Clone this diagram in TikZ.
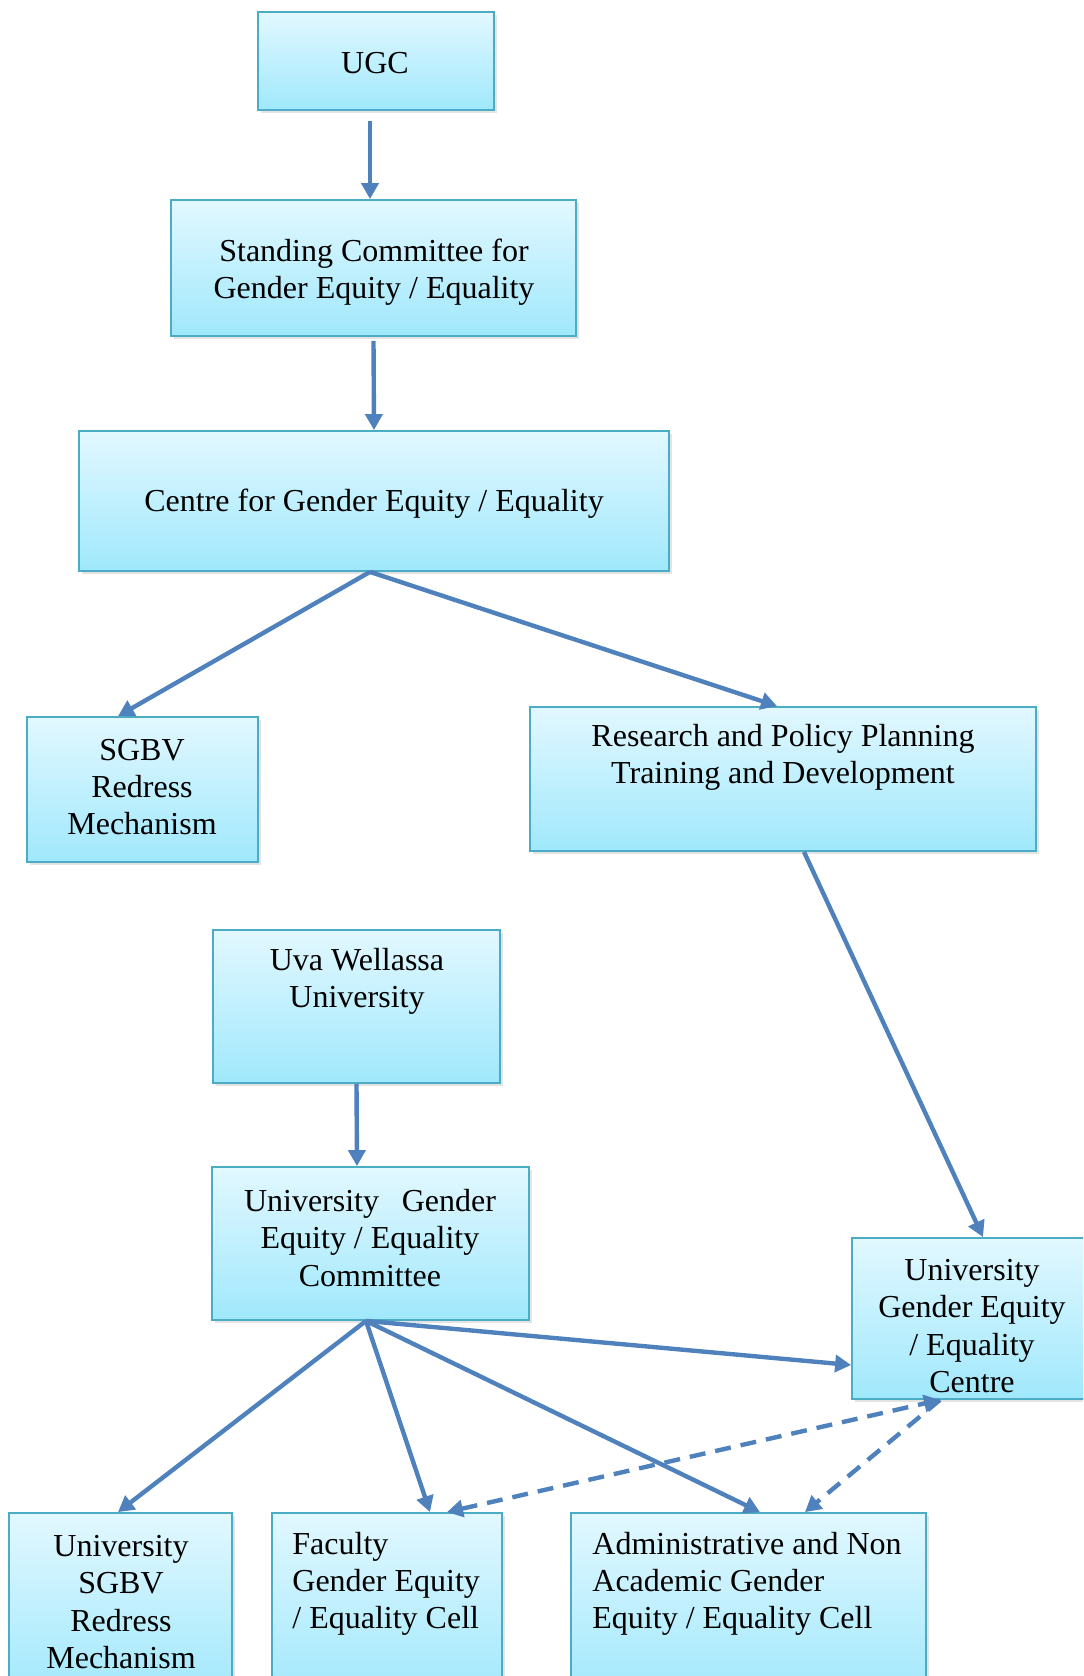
\documentclass[tikz,border=0pt]{standalone}
\usepackage{fontspec}
\setmainfont{Liberation Serif}
\usetikzlibrary{arrows.meta,shadows}
\definecolor{linecol}{RGB}{79,129,189}
\definecolor{boxborder}{RGB}{75,172,198}
\definecolor{boxtop}{RGB}{226,248,255}
\definecolor{boxbot}{RGB}{160,232,252}
\tikzset{
  box/.style={rectangle, draw=boxborder, line width=0.9pt, top color=boxtop, bottom color=boxbot,
    inner sep=0pt, drop shadow={shadow xshift=1.5pt, shadow yshift=-1.5pt, opacity=0.22}},
  txt/.style={inner sep=0pt, font=\fontsize{16}{18.6}\selectfont},
  conn/.style={draw=linecol, line width=2.2pt, -{Triangle[length=8pt,width=8.5pt]}},
  dconn/.style={conn, dash pattern=on 8pt off 5pt}
}
\begin{document}
\begin{tikzpicture}[x=0.5pt,y=-0.5pt]
\useasboundingbox (0,0) rectangle (1083,1676);
\clip (0,0) rectangle (1083,1676);
% boxes
\node[box, minimum width=118pt, minimum height=49pt] (ugc) at (376,61) {};
\node[box, minimum width=202.5pt, minimum height=68pt] (std) at (373.5,268) {};
\node[box, minimum width=295pt, minimum height=70pt] (cge) at (374,501) {};
\node[box, minimum width=115.5pt, minimum height=72.5pt] (sgbv) at (142.5,789.5) {};
\node[box, minimum width=253pt, minimum height=72pt] (rpp) at (783,779) {};
\node[box, minimum width=143.5pt, minimum height=76.5pt] (uva) at (356.5,1006.5) {};
\node[box, minimum width=158.5pt, minimum height=76.5pt] (ugec) at (370.5,1243.5) {};
\node[box, minimum width=120pt, minimum height=80.5pt] (ugecen) at (972,1318.5) {};
\node[box, minimum width=111.5pt, minimum height=93.5pt] (usgbv) at (120.5,1606.5) {};
\node[box, minimum width=115pt, minimum height=93.5pt] (fac) at (387,1606.5) {};
\node[box, minimum width=177.5pt, minimum height=93.5pt] (adm) at (748.5,1606.5) {};
% texts
\node[txt] (tugc) at (375,63) {UGC};
\node[txt, align=center] (tstd) at (374,272) {Standing Committee for\\Gender Equity / Equality};
\node[txt] (tcge) at (374,504) {Centre for Gender Equity / Equality};
\node[txt, align=center] (tsgbv) at (142,787) {SGBV\\Redress\\Mechanism};
\node[txt, align=center] (trpp) at (783,757) {Research and Policy Planning\\Training and Development};
\node[txt, align=center] (tuva) at (357,981) {Uva Wellassa\\University};
\node[txt, align=center] (tugec) at (370,1238) {\makebox[126pt][s]{University Gender}\\Equity / Equality\\Committee};
\node[txt, align=center] (tugecen) at (972,1326) {University\\Gender Equity\\/ Equality\\Centre};
\node[txt, align=center] (tusgbv) at (121,1602) {University\\SGBV\\Redress\\Mechanism};
\node[txt, align=left, anchor=west] (tfac) at (292,1584) {Faculty\\Gender Equity\\/ Equality Cell};
\node[txt, align=left, anchor=west] (tadm) at (592,1584) {Administrative and Non\\Academic Gender\\Equity / Equality Cell};
% connectors
\draw[conn] ([xshift=-3pt,yshift=-5pt]ugc.south) -- ([xshift=-1.75pt]std.north);
\draw[conn] ([yshift=-2pt]std.south) -- (cge.north);
\draw[conn] ([xshift=-2pt]cge.south) -- ([xshift=-12.25pt]sgbv.north);
\draw[conn] ([xshift=-2pt]cge.south) -- ([xshift=-3pt]rpp.north);
\draw[conn] ([xshift=10.5pt]rpp.south) -- ([xshift=5.5pt]ugecen.north);
\draw[conn] (uva.south) -- ([xshift=-6.75pt]ugec.north);
\coordinate (hub) at ([xshift=-2.25pt]ugec.south);
\draw[conn] (hub) -- ([yshift=-23.25pt]ugecen.west);
\draw[conn] (hub) -- ([xshift=-1.25pt]usgbv.north);
\draw[conn] (hub) -- ([xshift=21.5pt]fac.north);
\draw[conn] (hub) -- ([xshift=5.75pt]adm.north);
\draw[dconn, {Triangle[length=8pt,width=8.5pt]}-{Triangle[length=8pt,width=8.5pt]}] ([xshift=30pt]fac.north) -- ([xshift=-16pt]ugecen.south);
\draw[dconn] ([xshift=-16pt]ugecen.south) -- ([xshift=28.25pt]adm.north);
\end{tikzpicture}
\end{document}
